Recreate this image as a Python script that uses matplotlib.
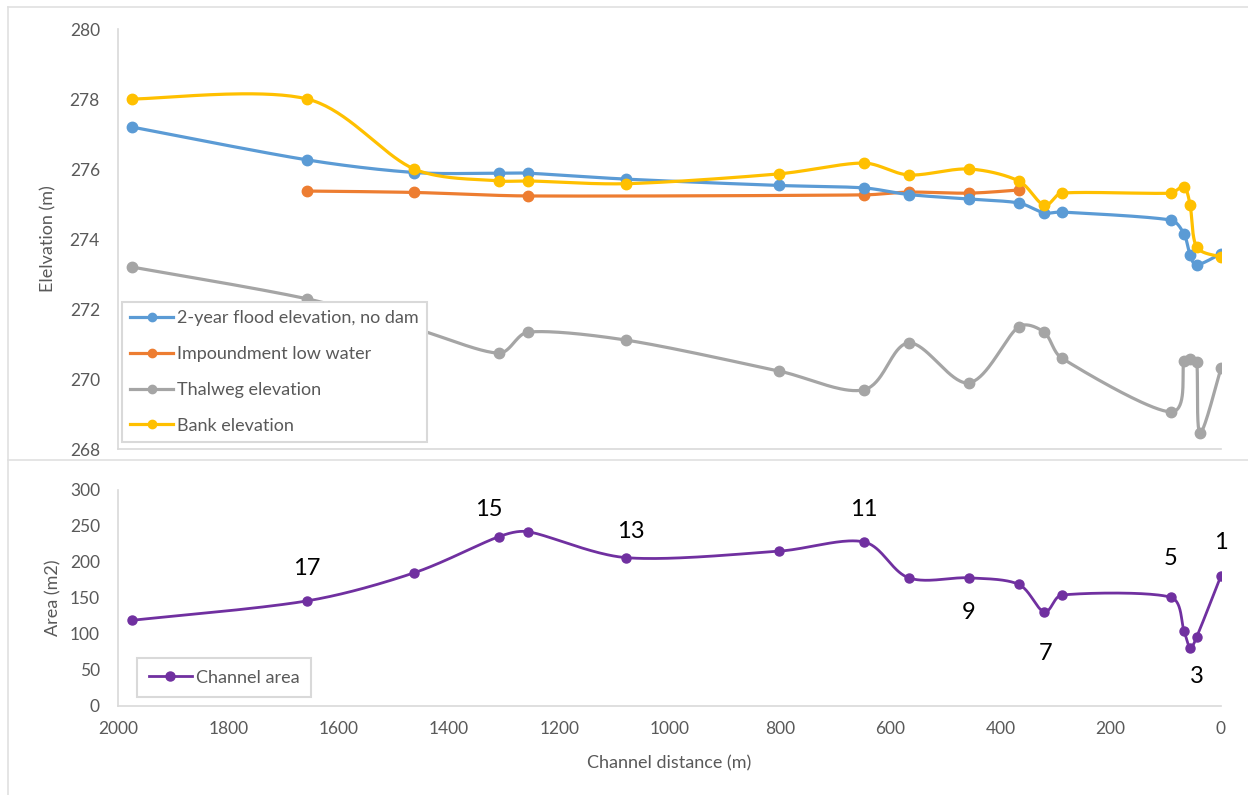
import numpy as np
import matplotlib
matplotlib.use("Agg")
import matplotlib.pyplot as plt
from matplotlib.lines import Line2D

plt.rcParams['font.family'] = ['Lato', 'DejaVu Sans']

# ---------------- data ----------------
distance = [1975, 1657, 1463, 1310, 1256, 1078, 802, 648, 566, 457, 367, 321, 289, 91, 67, 56, 44, 0]
flood_2yr = [277.2, 276.26, 275.9, 275.88, 275.88, 275.71, 275.53, 275.46, 275.27, 275.14, 275.03,
             274.75, 274.77, 274.54, 274.14, 273.54, 273.26, 273.58]
bank = [278.0, 278.0, 276.0, 275.66, 275.66, 275.58, 275.86, 276.17, 275.83, 276.0, 275.66,
        274.97, 275.31, 275.31, 275.49, 274.97, 273.77, 273.49]
impound_dist = [1657, 1463, 1256, 648, 566, 457, 367]
impound = [275.37, 275.33, 275.23, 275.26, 275.34, 275.31, 275.40]
thalweg_dist = [1975, 1657, 1463, 1310, 1256, 1078, 802, 648, 566, 457, 367, 321, 289, 91, 67, 56, 44, 38, 0]
thalweg = [273.2, 272.29, 271.45, 270.74, 271.34, 271.11, 270.23, 269.69, 271.03, 269.89, 271.49,
           271.34, 270.6, 269.06, 270.51, 270.57, 270.49, 268.46, 270.31]
area = [119, 146, 185, 235, 242, 206, 215, 228, 178, 178, 169, 131, 154, 151, 104, 81, 96, 181]
section_ids = [18, 17, 16, 15, 14, 13, 12, 11, 10, 9, 8, 7, 6, 5, 4, 3, 2, 1]
labelled_sections = [17, 15, 13, 11, 9, 7, 5, 3, 1]
# label offsets in pixels (dx, dy) for each labelled section
label_offsets = {17: (0, 32), 15: (-10, 27), 13: (4, 26), 11: (0, 32), 9: (0, -35),
                 7: (2, -42), 5: (0, 39), 3: (7, -29), 1: (0, 33)}

C_BLUE = '#5B9BD5'
C_ORANGE = '#ED7D31'
C_GRAY = '#A5A5A5'
C_YELLOW = '#FFC000'
C_PURPLE = '#7030A0'
C_AXIS = '#D9D9D9'
C_TEXT = '#595959'


def smooth(ax, x, y, n=40):
    """Excel-like smoothed line: Catmull-Rom Bezier in screen space with the
    control-point reach limited to a third of each segment."""
    P = ax.transData.transform(np.column_stack([np.asarray(x, float), np.asarray(y, float)]))
    if len(P) < 3:
        return np.asarray(x, float), np.asarray(y, float)
    Pe = np.vstack([P[0], P, P[-1]])
    t = np.linspace(0, 1, n)[:, None]
    segs = []
    for i in range(len(P) - 1):
        p0, p1, p2, p3 = Pe[i], Pe[i + 1], Pe[i + 2], Pe[i + 3]
        L = np.linalg.norm(p2 - p1)
        d1 = (p2 - p0) / 6.0
        d2 = (p3 - p1) / 6.0
        for d in (d1, d2):
            nd = np.linalg.norm(d)
            if nd > L / 3.0 and nd > 0:
                d *= (L / 3.0) / nd
        c1 = p1 + d1
        c2 = p2 - d2
        seg = (1 - t) ** 3 * p1 + 3 * (1 - t) ** 2 * t * c1 + 3 * (1 - t) * t ** 2 * c2 + t ** 3 * p2
        segs.append(seg if i == 0 else seg[1:])
    S = ax.transData.inverted().transform(np.vstack(segs))
    return S[:, 0], S[:, 1]


W, H = 1248, 795
fig = plt.figure(figsize=(W / 100, H / 100), dpi=100)


def fx(px):
    return px / W


def fy(py):
    return 1 - py / H


# chart-area borders
for (x0, y0, x1, y1) in [(8, 7, W, 7), (8, 7, 8, H), (8, 460, W, 460)]:
    fig.add_artist(Line2D([fx(x0), fx(x1)], [fy(y0), fy(y1)], color='#E0E0E0', lw=1.2,
                          transform=fig.transFigure))

x_left, x_right = 118, 1221
ax1 = fig.add_axes([fx(x_left), fy(449), fx(x_right) - fx(x_left), fy(29) - fy(449)])
ax2 = fig.add_axes([fx(x_left), fy(706), fx(x_right) - fx(x_left), fy(490) - fy(706)])

# ---------------- top chart ----------------
ax1.set_xlim(2000, 0)
ax1.set_ylim(268, 280)
LW = 2.3
MS = 7.5
series = [
    (distance, flood_2yr, C_BLUE, '2-year flood elevation, no dam', 4),
    (impound_dist, impound, C_ORANGE, 'Impoundment low water', 3),
    (thalweg_dist, thalweg, C_GRAY, 'Thalweg elevation', 2),
    (distance, bank, C_YELLOW, 'Bank elevation', 5),
]
handles = []
for xs, ys, c, lab, z in series:
    sx, sy = smooth(ax1, xs, ys)
    ax1.plot(sx, sy, color=c, lw=LW, zorder=z, solid_capstyle='round')
    ax1.plot(xs, ys, ls='none', marker='o', ms=MS, color=c, zorder=z)
    handles.append(Line2D([], [], color=c, lw=LW, marker='o', ms=MS - 1.5, label=lab))

ax1.set_yticks(np.arange(268, 281, 2))
ax1.set_xticks([])
ax1.set_ylabel('Elelvation (m)', fontsize=13, color=C_TEXT, va='center')
ax1.yaxis.set_label_coords((48 - x_left) / (x_right - x_left), 0.5)

leg1 = ax1.legend(handles=handles, loc='upper left',
                  bbox_to_anchor=(fx(122), fy(302)), bbox_transform=fig.transFigure,
                  borderaxespad=0, fontsize=13, frameon=True, fancybox=False,
                  handlelength=2.4, handletextpad=0.2, labelspacing=1.1,
                  borderpad=0.45, labelcolor=C_TEXT, framealpha=1)
leg1.get_frame().set_edgecolor(C_AXIS)
leg1.get_frame().set_linewidth(1.5)
leg1.set_zorder(10)

# ---------------- bottom chart ----------------
ax2.set_xlim(2000, 0)
ax2.set_ylim(0, 300)
sx, sy = smooth(ax2, distance, area)
ax2.plot(sx, sy, color=C_PURPLE, lw=2.0, zorder=3)
ax2.plot(distance, area, ls='none', marker='o', ms=6.5, color=C_PURPLE, zorder=3)
for d, a, sid in zip(distance, area, section_ids):
    if sid in labelled_sections:
        dx, dy = label_offsets[sid]
        ax2.annotate(str(sid), (d, a), xytext=(dx, dy), textcoords='offset pixels',
                     ha='center', va='center', fontsize=17, color='black')

ax2.set_yticks(np.arange(0, 301, 50))
ax2.set_xticks(np.arange(2000, -1, -200))
ax2.set_ylabel('Area (m2)', fontsize=13, color=C_TEXT, va='center')
ax2.yaxis.set_label_coords((53 - x_left) / (x_right - x_left), 0.5)
ax2.set_xlabel('Channel distance (m)', fontsize=13, color=C_TEXT, va='center')
ax2.xaxis.set_label_coords(0.5, (706 - 763) / 216)

h2 = [Line2D([], [], color=C_PURPLE, lw=2.0, marker='o', ms=6.5, label='Channel area')]
leg2 = ax2.legend(handles=h2, loc='upper left',
                  bbox_to_anchor=(fx(137), fy(658)), bbox_transform=fig.transFigure,
                  borderaxespad=0, fontsize=13, frameon=True, fancybox=False,
                  handlelength=2.4, handletextpad=0.2, borderpad=0.65,
                  labelcolor=C_TEXT, framealpha=1)
leg2.get_frame().set_edgecolor(C_AXIS)
leg2.get_frame().set_linewidth(1.5)

for ax in (ax1, ax2):
    for s in ('top', 'right'):
        ax.spines[s].set_visible(False)
    for s in ('left', 'bottom'):
        ax.spines[s].set_color(C_AXIS)
        ax.spines[s].set_linewidth(1.2)
    ax.tick_params(axis='y', length=0, pad=13, labelsize=12.5, labelcolor=C_TEXT)
    ax.tick_params(axis='x', length=0, pad=11, labelsize=12.5, labelcolor=C_TEXT)
    ax.patch.set_alpha(0)

fig.savefig('out.png', dpi=100, facecolor='white')
